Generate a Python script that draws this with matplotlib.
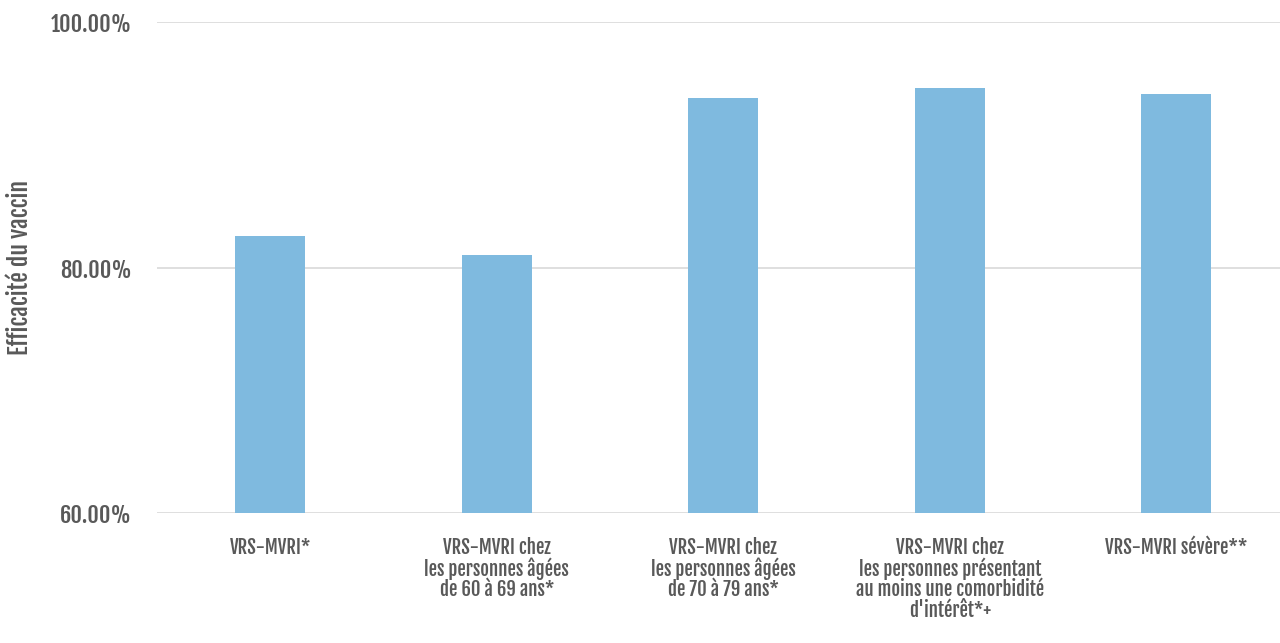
import matplotlib
matplotlib.use("Agg")
import matplotlib.pyplot as plt
from matplotlib.ticker import FuncFormatter

categories = [
    "VRS-MVRI*",
    "VRS-MVRI chez\nles personnes âgées\nde 60 à 69 ans*",
    "VRS-MVRI chez\nles personnes âgées\nde 70 à 79 ans*",
    "VRS-MVRI chez\nles personnes présentant\nau moins une comorbidité\nd'intérêt*+",
    "VRS-MVRI sévère**",
]
efficacy = [82.6, 81.0, 93.8, 94.6, 94.1]
y_ticks = [60, 80, 100]

BAR_COLOR = "#7fbadf"
TEXT_COLOR = "#595959"
GRID_COLOR = "#d9d9d9"

plt.rcParams["font.family"] = ["Fjalla One", "Oswald", "DejaVu Sans"]

fig = plt.figure(figsize=(12.8, 6.43), dpi=100)
ax = fig.add_axes([157 / 1280, 1 - 513 / 643, (1280 - 157) / 1280, (513 - 22) / 643])

x = range(len(categories))
ax.bar(x, efficacy, width=0.31, color=BAR_COLOR, zorder=3)

ax.set_ylim(60, 100)
ax.set_xlim(-0.5, (1280 - 157) / 226.5 - 0.5)
ax.set_yticks(y_ticks)
ax.yaxis.set_major_formatter(FuncFormatter(lambda v, _: f"{v:.2f}%"))
ax.yaxis.grid(True, color=GRID_COLOR, linewidth=1.2, zorder=0)
ax.set_xticks(list(x))
ax.set_xticklabels(categories, fontsize=13.5, color=TEXT_COLOR, linespacing=0.98, va="top")
ax.tick_params(axis="both", length=0, labelcolor=TEXT_COLOR)
ax.tick_params(axis="y", labelsize=16, pad=18)
ax.tick_params(axis="x", pad=17)
for spine in ax.spines.values():
    spine.set_visible(False)

ax.set_ylabel("Efficacité du vaccin", fontsize=17, color=TEXT_COLOR)
ax.yaxis.set_label_coords(-(157 - 33) / 1123, 0.5)

fig.savefig("out.png", dpi=100)
